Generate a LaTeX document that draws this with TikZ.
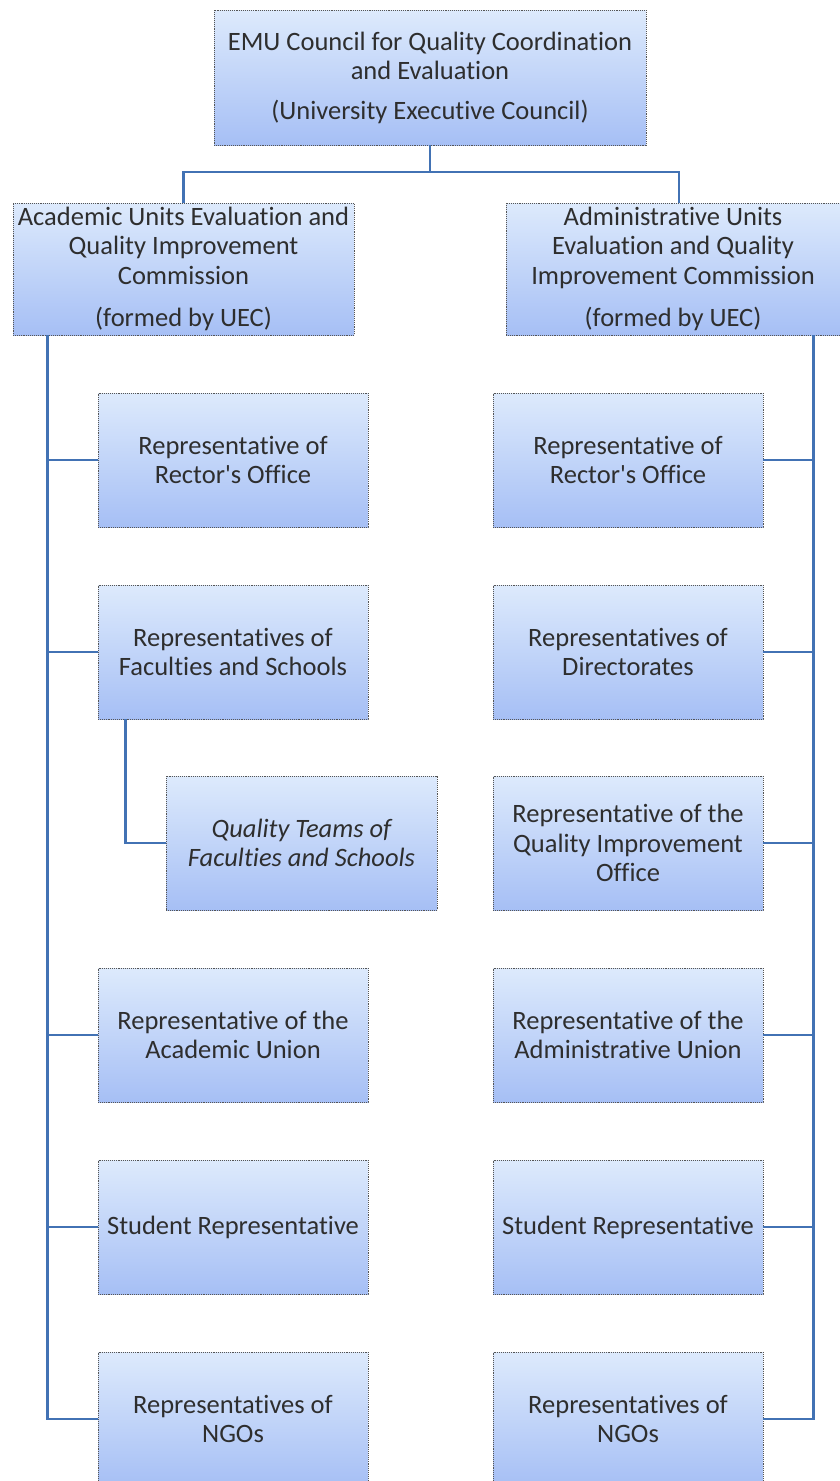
\documentclass[tikz,border=0pt]{standalone}
\usepackage{fontspec}
\setmainfont[Ligatures={NoCommon}]{Carlito}
\definecolor{boxtop}{HTML}{DDEAFC}
\definecolor{boxbot}{HTML}{A6BFF5}
\definecolor{boxline}{HTML}{555555}
\definecolor{conn}{HTML}{4272B4}
\definecolor{txt}{HTML}{2E2E2E}
\begin{document}
\begin{tikzpicture}[x=1pt,y=-1pt,
  box/.style={rectangle, top color=boxtop, bottom color=boxbot, draw=boxline,
    densely dotted, line width=0.9pt, align=center, text=txt, inner sep=1pt,
    font=\fontsize{26.5}{29.5}\selectfont},
  childbox/.style={box, minimum width=270pt, minimum height=134pt},
  link/.style={draw=conn, line width=2.8pt, solid}]
\useasboundingbox (0,0) rectangle (840,1481);
% top
\node[box, minimum width=432pt, minimum height=135pt] (top) at (430,77.5)
  {EMU Council for Quality Coordination\\and Evaluation\\[10pt](University Executive Council)};
\node[box, minimum width=341pt, minimum height=132pt] (lc) at (183.5,269)
  {Academic Units Evaluation and\\Quality Improvement\\Commission\\[13pt](formed by UEC)};
\node[box, minimum width=334pt, minimum height=132pt] (rc) at (673,269)
  {Administrative Units\\Evaluation and Quality\\Improvement Commission\\[13pt](formed by UEC)};
% left children
\node[childbox] (l1) at (233,460) {Representative of\\Rector\textquotesingle s Office};
\node[childbox] (l2) at (233,652) {Representatives of\\Faculties and Schools};
\node[childbox, minimum width=271pt] (qt) at (301.5,843) {\itshape Quality Teams of\\\itshape Faculties and Schools};
\node[childbox] (l4) at (233,1035) {Representative of the\\Academic Union};
\node[childbox] (l5) at (233,1227) {Student Representative};
\node[childbox] (l6) at (233,1419) {Representatives of\\NGOs};
% right children
\node[childbox] (r1) at (628,460) {Representative of\\Rector\textquotesingle s Office};
\node[childbox] (r2) at (628,652) {Representatives of\\Directorates};
\node[childbox] (r3) at (628,843) {Representative of the\\Quality Improvement\\Office};
\node[childbox] (r4) at (628,1035) {Representative of the\\Administrative Union};
\node[childbox] (r5) at (628,1227) {Student Representative};
\node[childbox] (r6) at (628,1419) {Representatives of\\NGOs};
% connectors
\coordinate (bus) at (430,172);
\draw[link] (top.south) -- (bus);
\draw[link] (lc.north) |- (bus) -| ([xshift=6pt]rc.north);
\coordinate (spineL) at ([xshift=35pt]lc.south west);
\coordinate (spineR) at ([xshift=-27pt]rc.south east);
\draw[link] (spineL) |- (l6.west);
\foreach \n in {l1,l2,l4,l5} \draw[link] (\n.west) -- (\n.west -| spineL);
\draw[link] ([xshift=28pt]l2.south west) |- (qt.west);
\draw[link] (spineR) |- (r6.east);
\foreach \n in {r1,r2,r3,r4,r5} \draw[link] (\n.east) -- (\n.east -| spineR);
\end{tikzpicture}
\end{document}
